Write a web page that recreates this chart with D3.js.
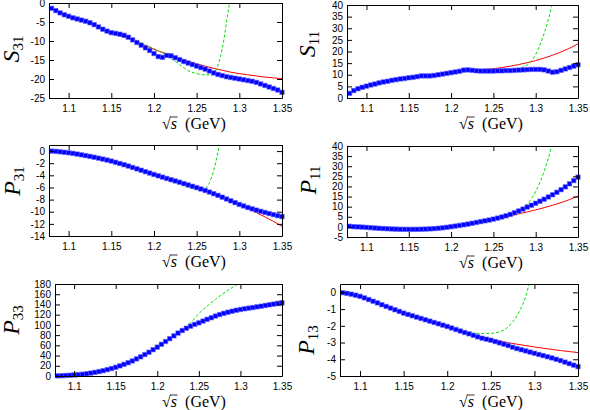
<!DOCTYPE html>
<html><head><meta charset="utf-8">
<script src="https://cdn.jsdelivr.net/npm/d3@7"></script>
<style>body{margin:0;background:#fff}svg{display:block}</style>
</head><body><svg id="c" width="590" height="410"></svg>
<script>
// ---------------- data ----------------
const energies = [1.08,1.085,1.09,1.095,1.1,1.105,1.11,1.115,1.12,1.125,1.13,1.135,1.14,1.145,1.15,1.155,1.16,1.165,1.17,1.175,1.18,1.185,1.19,1.195,1.2,1.205,1.21,1.215,1.22,1.225,1.23,1.235,1.24,1.245,1.25,1.255,1.26,1.265,1.27,1.275,1.28,1.285,1.29,1.295,1.3,1.305,1.31,1.315,1.32,1.325,1.33,1.335,1.34,1.345,1.35];
const curveEnergies = [1.08,1.09,1.1,1.11,1.12,1.13,1.14,1.15,1.16,1.17,1.18,1.19,1.2,1.21,1.22,1.23,1.24,1.25,1.26,1.27,1.28,1.29,1.3,1.31,1.32,1.33,1.34,1.35];
const xTicks = [1.1,1.15,1.2,1.25,1.3,1.35];

const s31Data = [-1.4,-2.0,-2.6,-3.1,-3.5,-3.9,-4.2,-4.5,-4.8,-5.2,-5.7,-6.3,-6.9,-7.4,-7.8,-8.0,-8.2,-8.5,-9.0,-9.7,-10.4,-11.1,-11.8,-12.5,-13.3,-14.1,-14.3,-13.8,-13.9,-14.4,-14.9,-15.4,-15.8,-16.2,-16.6,-17.0,-17.4,-17.9,-18.4,-18.8,-19.1,-19.4,-19.6,-19.8,-20.0,-20.2,-20.4,-20.6,-20.9,-21.3,-21.7,-22.1,-22.5,-22.9,-23.5];
const s31Red = [-1.4,-2.6,-3.5,-4.2,-4.9,-5.8,-6.8,-7.7,-8.6,-9.4,-10.3,-11.2,-12.2,-13.0,-13.8,-14.6,-15.3,-16.0,-16.6,-17.2,-17.7,-18.2,-18.6,-18.9,-19.2,-19.5,-19.7,-19.9];
const s31Green = [[1.08,-1.4],[1.10,-3.5],[1.12,-4.9],[1.13,-5.8],[1.14,-6.7],[1.15,-7.5],[1.16,-8.3],[1.17,-9.2],[1.18,-10.0],[1.19,-11.0],[1.20,-12.0],[1.21,-13.2],[1.22,-14.6],[1.23,-16.2],[1.24,-17.8],[1.25,-18.6],[1.26,-18.9],[1.265,-18.9],[1.27,-18.4],[1.274,-17.0],[1.278,-14.0],[1.282,-9.5],[1.286,-3.5],[1.289,0.5]];

const s11Data = [2.0,3.2,4.0,4.6,5.1,5.6,6.0,6.5,6.9,7.2,7.6,7.9,8.2,8.4,8.7,8.9,9.2,9.5,9.5,9.5,9.7,10.0,10.3,10.6,10.9,11.2,11.5,12.0,12.1,11.9,11.7,11.6,11.6,11.6,11.6,11.7,11.7,11.8,11.8,11.9,12.0,12.1,12.2,12.3,12.3,12.3,12.1,11.6,11.1,11.3,11.9,12.5,13.1,13.7,14.3];
const s11Red = [2.0,4.0,5.1,6.0,6.9,7.6,8.2,8.7,9.2,9.6,10.0,10.4,10.9,11.3,11.7,12.0,12.3,12.6,13.1,13.7,14.4,15.2,16.1,17.2,18.4,19.8,21.4,23.3];
const s11Green = [[1.08,2.0],[1.10,5.1],[1.12,6.9],[1.14,8.2],[1.16,9.2],[1.18,10.0],[1.20,10.8],[1.22,11.3],[1.24,11.4],[1.26,11.5],[1.27,11.8],[1.28,12.5],[1.285,13.3],[1.29,14.2],[1.295,15.9],[1.30,18.7],[1.305,22.8],[1.31,27.8],[1.315,33.8],[1.32,41.0]];

const p31Data = [0.0,-0.05,-0.12,-0.2,-0.28,-0.38,-0.5,-0.62,-0.75,-0.88,-1.02,-1.17,-1.32,-1.48,-1.65,-1.85,-2.05,-2.25,-2.47,-2.7,-2.93,-3.16,-3.4,-3.63,-3.86,-4.08,-4.3,-4.51,-4.72,-4.93,-5.14,-5.36,-5.58,-5.8,-6.02,-6.25,-6.5,-6.76,-7.03,-7.3,-7.6,-7.9,-8.2,-8.5,-8.8,-9.05,-9.3,-9.52,-9.73,-9.93,-10.12,-10.3,-10.48,-10.65,-10.8];
const p31Red = [0,-0.12,-0.28,-0.5,-0.75,-1.02,-1.32,-1.65,-2.05,-2.47,-2.93,-3.4,-3.86,-4.3,-4.72,-5.14,-5.58,-6.02,-6.5,-7.03,-7.6,-8.22,-8.87,-9.5,-10.15,-10.85,-11.6,-12.4];
const p31Green = [[1.08,0],[1.10,-0.28],[1.12,-0.75],[1.14,-1.3],[1.16,-2.0],[1.18,-2.9],[1.20,-3.9],[1.22,-4.85],[1.23,-5.4],[1.24,-5.95],[1.25,-6.35],[1.255,-6.4],[1.26,-6.2],[1.265,-5.2],[1.27,-3.2],[1.274,-0.8],[1.277,1.2]];

const p11Data = [0.3,0.1,0.0,-0.1,-0.25,-0.4,-0.55,-0.7,-0.82,-0.93,-1.03,-1.1,-1.17,-1.2,-1.22,-1.22,-1.2,-1.15,-1.08,-0.98,-0.85,-0.68,-0.47,-0.2,0.1,0.4,0.7,1.05,1.4,1.8,2.2,2.6,3.0,3.4,3.85,4.35,4.9,5.5,6.2,7.0,7.9,8.8,9.8,10.7,11.7,12.7,13.7,14.8,15.9,17.1,18.4,19.8,21.3,22.9,24.6];
const p11Red = [0.3,0.0,-0.25,-0.55,-0.82,-1.03,-1.17,-1.22,-1.2,-1.08,-0.85,-0.47,0.1,0.7,1.4,2.2,3.0,3.8,4.55,5.4,6.5,7.4,8.4,9.5,10.7,12.0,13.5,15.2];
const p11Green = [[1.08,0.3],[1.10,-0.25],[1.12,-0.82],[1.14,-1.17],[1.16,-1.2],[1.18,-0.85],[1.20,0.1],[1.22,1.4],[1.24,3.0],[1.26,4.9],[1.27,6.2],[1.28,7.9],[1.285,9.1],[1.29,11.3],[1.295,14.0],[1.30,17.5],[1.305,22.0],[1.31,27.5],[1.315,34.0],[1.32,42.0]];

const p33Data = [0.3,0.6,1.0,1.5,2.0,2.7,3.5,4.5,5.7,7.1,8.7,10.5,12.5,14.6,17.0,19.8,22.8,26.0,29.5,33.5,37.5,42.0,46.5,51.5,56.5,62.0,67.5,73.0,78.5,84.0,89.0,93.5,97.5,101.0,104.0,107.5,111.0,114.0,117.3,120.2,122.6,124.8,126.8,128.6,130.2,131.5,132.8,134.0,135.3,136.6,138.0,139.3,140.6,141.8,143.0];
const p33Red = [0.3,1.0,2.0,3.5,5.7,8.7,12.5,17.0,22.8,29.5,37.5,46.5,56.5,67.5,78.5,89.0,97.5,104.0,111.0,117.3,122.6,126.8,130.4,133.7,137.0,140.4,144.0,147.6];
const p33Green = [[1.08,0.3],[1.10,2.0],[1.12,5.7],[1.14,12.5],[1.16,22.5],[1.18,36.5],[1.20,55.0],[1.21,65.5],[1.22,77.0],[1.23,89.0],[1.235,95.5],[1.24,104.0],[1.245,113.0],[1.25,122.0],[1.26,137.0],[1.27,150.0],[1.28,162.0],[1.29,173.0],[1.295,178.0],[1.30,183.0]];

const p13Data = [-0.02,-0.06,-0.11,-0.17,-0.24,-0.33,-0.43,-0.53,-0.63,-0.74,-0.84,-0.94,-1.04,-1.14,-1.24,-1.32,-1.40,-1.48,-1.56,-1.64,-1.72,-1.80,-1.88,-1.96,-2.04,-2.13,-2.22,-2.31,-2.40,-2.48,-2.57,-2.66,-2.74,-2.80,-2.86,-2.94,-3.02,-3.10,-3.18,-3.28,-3.36,-3.43,-3.50,-3.57,-3.64,-3.71,-3.78,-3.85,-3.92,-4.00,-4.08,-4.17,-4.26,-4.35,-4.44];
const p13Red = [-0.02,-0.11,-0.24,-0.43,-0.63,-0.84,-1.04,-1.24,-1.40,-1.56,-1.72,-1.88,-2.04,-2.22,-2.40,-2.56,-2.70,-2.80,-2.91,-3.01,-3.10,-3.18,-3.26,-3.34,-3.41,-3.48,-3.54,-3.60];
const p13Green = [[1.08,-0.02],[1.10,-0.24],[1.12,-0.63],[1.14,-1.04],[1.16,-1.40],[1.18,-1.72],[1.20,-2.04],[1.22,-2.36],[1.23,-2.44],[1.24,-2.46],[1.25,-2.45],[1.255,-2.42],[1.26,-2.36],[1.265,-2.25],[1.27,-2.06],[1.275,-1.76],[1.28,-1.40],[1.285,-0.90],[1.29,-0.25],[1.294,0.55]];

const s31Ticks = [0,-5,-10,-15,-20,-25];
const s11Ticks = [0,5,10,15,20,25,30,35,40];
const p31Ticks = [0,-2,-4,-6,-8,-10,-12,-14];
const p11Ticks = [-5,0,5,10,15,20,25,30,35,40];
const p33Ticks = [0,20,40,60,80,100,120,140,160,180];
const p13Ticks = [0,-1,-2,-3,-4,-5];

// ---------------- drawing ----------------
const svg = d3.select('#c');
const X0 = 1.077, X1 = 1.35;
const tickFont = '"Liberation Sans", Arial, sans-serif';
const serif = '"Liberation Serif", "Times New Roman", serif';

const panels = [
  {id:1, letter:'S', sub:'31', data:s31Data, red:s31Red, green:s31Green, yd:[-25,0], yt:s31Ticks, l:49, r:282, t:3, b:98, lx:19, ly:49, tx:194},
  {id:2, letter:'S', sub:'11', data:s11Data, red:s11Red, green:s11Green, yd:[0,40], yt:s11Ticks, l:347, r:578, t:5, b:98, lx:315, ly:44, tx:491},
  {id:3, letter:'P', sub:'31', data:p31Data, red:p31Red, green:p31Green, yd:[-14,1], yt:p31Ticks, l:49, r:282, t:145, b:236, lx:20, ly:181, tx:194},
  {id:4, letter:'P', sub:'11', data:p11Data, red:p11Red, green:p11Green, yd:[-5,40], yt:p11Ticks, l:347, r:578, t:146, b:237, lx:316, ly:180, tx:491},
  {id:5, letter:'P', sub:'33', data:p33Data, red:p33Red, green:p33Green, yd:[0,180], yt:p33Ticks, l:55, r:282, t:284, b:376, lx:19, ly:320, tx:194},
  {id:6, letter:'P', sub:'13', data:p13Data, red:p13Red, green:p13Green, yd:[-5,0.5], yt:p13Ticks, l:340, r:578, t:284, b:376, lx:314, ly:340, tx:491}
];

const defs = svg.append('defs');

panels.forEach(cfg => {
  const x = d3.scaleLinear().domain([X0, X1]).range([cfg.l, cfg.r]);
  const y = d3.scaleLinear().domain(cfg.yd).range([cfg.b, cfg.t]);
  const g = svg.append('g');
  const cid = 'clip' + cfg.id;
  defs.append('clipPath').attr('id', cid).append('rect')
    .attr('x', cfg.l).attr('y', cfg.t).attr('width', cfg.r - cfg.l).attr('height', cfg.b - cfg.t);

  const line = d3.line().x(d => x(d[0])).y(d => y(d[1])).curve(d3.curveMonotoneX);
  const plot = g.append('g').attr('clip-path', `url(#${cid})`);

  plot.append('path').attr('d', line(curveEnergies.map((e, i) => [e, cfg.red[i]])))
    .attr('fill', 'none').attr('stroke', '#ff0000').attr('stroke-width', 1);
  plot.append('path').attr('d', line(cfg.green))
    .attr('fill', 'none').attr('stroke', '#00e000').attr('stroke-width', 1).attr('stroke-dasharray', '3,2');

  const ms = 4.4;
  g.append('g').selectAll('rect').data(energies.map((e, i) => [e, cfg.data[i]])).join('rect')
    .attr('x', d => x(d[0]) - ms / 2).attr('y', d => y(d[1]) - ms / 2)
    .attr('width', ms).attr('height', ms)
    .attr('fill', '#0000ff').attr('stroke', 'rgba(90,90,255,0.55)').attr('stroke-width', 1);

  const fmt = d => String(+d.toFixed(2));
  const style = sel => {
    sel.selectAll('path.domain').attr('stroke', '#000').attr('stroke-width', 1);
    sel.selectAll('line').attr('stroke', '#000');
    sel.selectAll('text').style('font-family', tickFont).style('font-size', '10px').attr('fill', '#000');
  };
  g.append('g').attr('transform', `translate(0,${cfg.b})`)
    .call(d3.axisBottom(x).tickValues(xTicks).tickFormat(fmt).tickSizeInner(-5).tickSizeOuter(0).tickPadding(7)).call(style);
  g.append('g').attr('transform', `translate(0,${cfg.t})`)
    .call(d3.axisTop(x).tickValues(xTicks).tickFormat('').tickSizeInner(-5).tickSizeOuter(0)).call(style);
  g.append('g').attr('transform', `translate(${cfg.l},0)`)
    .call(d3.axisLeft(y).tickValues(cfg.yt).tickFormat(d => String(d)).tickSizeInner(-5).tickSizeOuter(0).tickPadding(4)).call(style);
  g.append('g').attr('transform', `translate(${cfg.r},0)`)
    .call(d3.axisRight(y).tickValues(cfg.yt).tickFormat('').tickSizeInner(-5).tickSizeOuter(0)).call(style);

  // y label
  const lab = svg.append('text').attr('transform', `translate(${cfg.lx},${cfg.ly}) rotate(-90)`)
    .attr('text-anchor', 'middle').style('font-family', serif).attr('fill', '#000');
  lab.append('tspan').style('font-style', 'italic').style('font-size', '24px').text(cfg.letter);
  lab.append('tspan').attr('dy', 4).style('font-size', '15px').text(cfg.sub);

  // x title
  const ty = cfg.b + 31;
  const tt = svg.append('text').attr('x', cfg.tx).attr('y', ty).attr('text-anchor', 'middle')
    .style('font-family', serif).style('font-size', '16px').attr('fill', '#000');
  tt.append('tspan').text('\u221A');
  tt.append('tspan').style('font-style', 'italic').text('s');
  tt.append('tspan').text('\u2002(GeV)');
  const node = tt.node();
  const s0 = node.getStartPositionOfChar(1), s1 = node.getEndPositionOfChar(1);
  svg.append('line').attr('x1', s0.x - 0.5).attr('x2', s1.x + 0.5)
    .attr('y1', ty - 12).attr('y2', ty - 12).attr('stroke', '#000').attr('stroke-width', 0.8);
});
</script>
</body></html>
